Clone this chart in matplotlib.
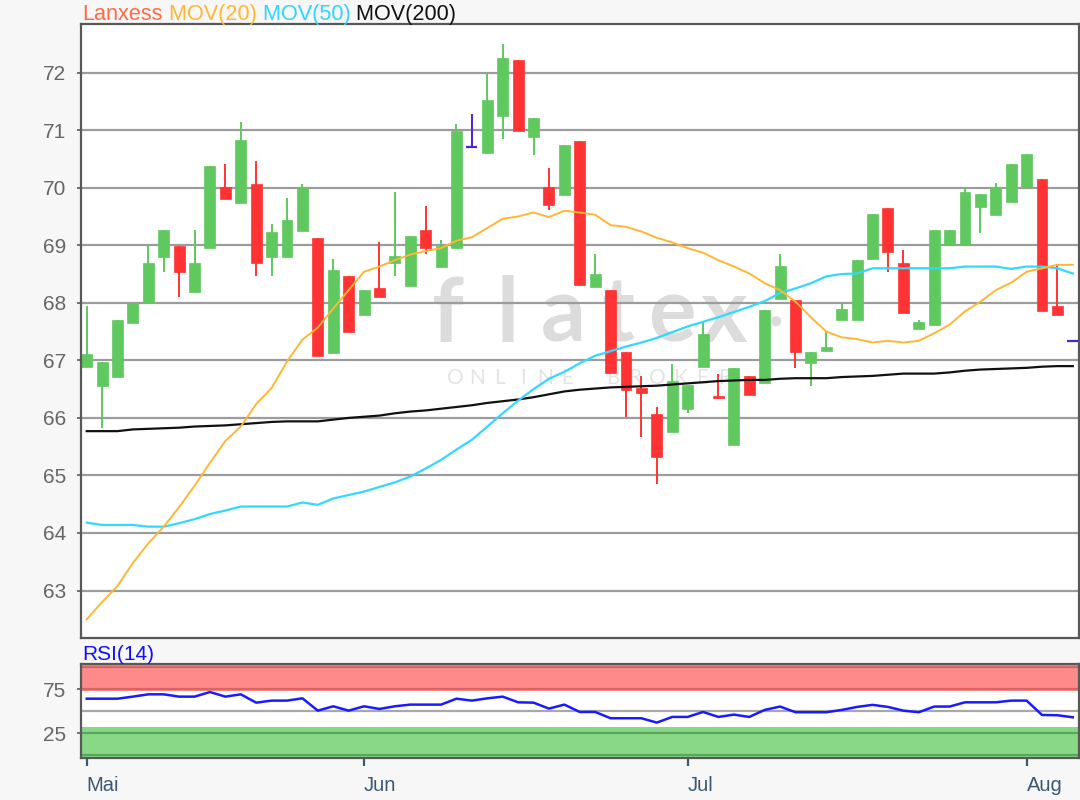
import matplotlib
matplotlib.use('Agg')
import matplotlib.pyplot as plt
import numpy as np

plt.rcParams['font.family'] = ['Liberation Sans', 'DejaVu Sans']

# ---------------- data ----------------
months = ['Mai', 'Jun', 'Jul', 'Aug']
month_start_idx = [0, 18, 39, 61]

opens = [66.88, 66.56, 66.71, 67.65, 68.00, 68.79, 68.99, 68.19, 68.96, 70.02,
         69.73, 70.07, 68.79, 68.79, 69.25, 69.12, 67.12, 68.47, 67.79, 68.25,
         68.69, 68.30, 69.27, 68.62, 68.96, 70.71, 70.60, 71.25, 72.22, 70.88,
         70.02, 69.87, 70.82, 68.28, 68.22, 67.14, 66.52, 66.06, 65.76, 66.16,
         66.89, 66.37, 65.53, 66.72, 66.61, 68.07, 68.05, 66.95, 67.17, 67.71,
         67.71, 68.76, 69.64, 68.70, 67.54, 67.62, 69.00, 69.00, 69.66, 69.52,
         69.76, 70.02, 70.16, 67.95]
highs = [67.95, 66.98, 67.70, 68.00, 69.01, 69.27, 68.99, 69.27, 70.38, 70.41,
         71.14, 70.47, 69.37, 69.82, 70.07, 69.12, 68.77, 68.47, 68.22, 69.05,
         69.93, 69.16, 69.68, 69.09, 71.11, 71.28, 72.00, 72.50, 72.22, 71.21,
         70.34, 70.75, 70.82, 68.84, 68.22, 67.14, 66.73, 66.19, 66.94, 66.57,
         67.69, 66.76, 66.86, 66.72, 67.88, 68.84, 68.05, 67.14, 67.49, 67.99,
         68.75, 69.54, 69.64, 68.92, 67.70, 69.27, 69.27, 70.02, 69.89, 70.08,
         70.41, 70.58, 70.16, 68.66]
lows = [66.88, 65.83, 66.71, 67.65, 68.00, 68.54, 68.10, 68.19, 68.96, 69.80,
        69.73, 68.47, 68.47, 68.79, 69.25, 67.08, 67.12, 67.50, 67.79, 68.10,
        68.47, 68.30, 68.85, 68.62, 68.96, 70.71, 70.60, 70.84, 70.99, 70.57,
        69.61, 69.87, 68.31, 68.28, 66.78, 66.01, 65.66, 64.86, 65.76, 66.08,
        66.89, 66.33, 65.53, 66.39, 66.61, 68.07, 66.87, 66.56, 67.17, 67.71,
        67.71, 68.76, 68.54, 67.82, 67.54, 67.62, 69.00, 69.00, 69.21, 69.52,
        69.76, 70.02, 67.85, 67.79]
closes = [67.11, 66.98, 67.70, 68.00, 68.70, 69.27, 68.54, 68.70, 70.38, 69.80,
          70.83, 68.69, 69.23, 69.44, 70.02, 67.08, 68.57, 67.50, 68.22, 68.10,
          68.81, 69.16, 68.96, 68.98, 70.99, 70.71, 71.53, 72.25, 70.99, 71.21,
          69.70, 70.75, 68.31, 68.50, 66.78, 66.48, 66.43, 65.32, 66.64, 66.57,
          67.46, 66.34, 66.86, 66.39, 67.88, 68.64, 67.14, 67.14, 67.24, 67.90,
          68.75, 69.54, 68.89, 67.82, 67.66, 69.27, 69.27, 69.92, 69.89, 70.02,
          70.41, 70.58, 67.85, 67.79]
last_price = 67.34

mov20 = [62.50, 62.80, 63.08, 63.48, 63.82, 64.11, 64.45, 64.82, 65.22, 65.60,
         65.85, 66.24, 66.52, 66.98, 67.36, 67.57, 67.90, 68.22, 68.54, 68.63,
         68.74, 68.84, 68.90, 68.95, 69.08, 69.14, 69.30, 69.46, 69.50, 69.57,
         69.49, 69.60, 69.57, 69.53, 69.35, 69.32, 69.24, 69.13, 69.05, 68.95,
         68.87, 68.74, 68.63, 68.51, 68.34, 68.22, 68.02, 67.75, 67.50, 67.40,
         67.37, 67.31, 67.34, 67.31, 67.34, 67.47, 67.62, 67.85, 68.02, 68.22,
         68.35, 68.54, 68.60, 68.66, 68.66]
mov50 = [64.18, 64.14, 64.14, 64.14, 64.11, 64.11, 64.17, 64.24, 64.33, 64.39,
         64.46, 64.46, 64.46, 64.46, 64.53, 64.49, 64.60, 64.66, 64.72, 64.80,
         64.88, 64.98, 65.12, 65.27, 65.45, 65.62, 65.85, 66.08, 66.30, 66.50,
         66.68, 66.80, 66.95, 67.08, 67.16, 67.24, 67.31, 67.39, 67.49, 67.59,
         67.67, 67.75, 67.84, 67.93, 68.03, 68.17, 68.25, 68.34, 68.46, 68.50,
         68.51, 68.60, 68.60, 68.60, 68.60, 68.60, 68.60, 68.63, 68.63, 68.63,
         68.59, 68.63, 68.63, 68.60, 68.51]
mov200 = [65.77, 65.77, 65.77, 65.80, 65.81, 65.82, 65.83, 65.85, 65.86, 65.87,
          65.89, 65.91, 65.93, 65.94, 65.94, 65.94, 65.97, 66.00, 66.02, 66.04,
          66.08, 66.11, 66.13, 66.16, 66.19, 66.22, 66.26, 66.29, 66.32, 66.36,
          66.41, 66.46, 66.49, 66.51, 66.53, 66.54, 66.55, 66.56, 66.58, 66.60,
          66.62, 66.64, 66.65, 66.66, 66.66, 66.68, 66.69, 66.69, 66.69, 66.71,
          66.72, 66.73, 66.75, 66.77, 66.77, 66.77, 66.79, 66.82, 66.84, 66.85,
          66.86, 66.87, 66.89, 66.90, 66.90]
rsi14 = [64.1, 64.1, 64.1, 66.4, 69.0, 69.0, 66.4, 66.4, 71.6, 66.4,
         69.0, 59.6, 61.9, 61.9, 64.5, 50.6, 55.5, 50.6, 55.5, 52.5,
         55.5, 57.4, 57.4, 57.4, 64.1, 61.9, 64.5, 66.4, 60.0, 59.6,
         52.9, 57.4, 49.1, 49.1, 42.0, 42.0, 42.0, 37.1, 43.5, 43.5,
         49.1, 43.5, 46.1, 43.5, 51.4, 55.2, 48.8, 48.8, 48.8, 51.4,
         54.8, 57.1, 54.8, 50.6, 48.8, 55.2, 55.2, 60.0, 60.0, 60.0,
         61.9, 61.9, 45.7, 45.4, 43.1]

price_ticks = list(range(63, 73))
rsi_ticks = [25, 75]

# ---------------- style ----------------
W, H = 1080, 800
BG = '#f7f7f7'
GREEN = '#5fc85f'
RED = '#ff3333'
BLUE_DOJI = '#4a22d8'
C20 = '#ffb733'
C50 = '#33d8ff'
C200 = '#111111'
SPINE = '#585858'
GRID = '#9c9c9c'
TICKTXT = '#666666'
XTXT = '#3b5875'


def fx(px):
    return px / W


def fy(py):
    return 1 - py / H


fig = plt.figure(figsize=(W / 100, H / 100), dpi=100, facecolor=BG)

left_px, right_px = 81.3, 1079.0
ax = fig.add_axes([fx(left_px), fy(638.3), fx(right_px - left_px), (638.3 - 24.3) / H])
ax2 = fig.add_axes([fx(left_px), fy(758.3), fx(right_px - left_px), (758.3 - 664.3) / H])

n = len(opens)
idx = np.arange(n)
ma_idx = np.arange(len(mov20))

# watermark (behind everything)
wm_letters = ['f', 'l', 'a', 't', 'e', 'x']
wm_x = [447, 507, 563, 618, 672, 724]
for ch, xp in zip(wm_letters, wm_x):
    ax.text(fx(xp), fy(342), ch, transform=fig.transFigure, fontsize=64,
            family='Lato', weight='bold', color='#dcdcdc', ha='center',
            va='baseline', zorder=0.2)
ax.text(fx(776), fy(322), '\u25cf', transform=fig.transFigure, fontsize=17,
        color='#dcdcdc', ha='center', va='center', zorder=0.2)
wm2 = 'ONLINE BROKER'
for k, ch in enumerate(wm2):
    ax.text(fx(455 + k * 22.5), fy(378), ch, transform=fig.transFigure, fontsize=15,
            family='Lato', color='#e4e4e4', ha='center', va='center', zorder=0.2)

# candles
body_w = 0.71
for i in idx:
    o, h, l, c = opens[i], highs[i], lows[i], closes[i]
    if c > o:
        col = GREEN
    elif c < o:
        col = RED
    else:
        col = BLUE_DOJI
    ax.vlines(i, l, h, color=col, lw=1.4, zorder=2)
    if c == o:
        ax.hlines(o, i - body_w / 2, i + body_w / 2, color=col, lw=1.6, zorder=2)
    else:
        ax.bar(i, max(abs(c - o), 0.04), bottom=min(o, c), width=body_w,
               color=col, edgecolor=col, lw=0.5, zorder=2)

ax.hlines(last_price, n - 0.4, n + 0.4, color=BLUE_DOJI, lw=1.6, zorder=2)

ax.plot(ma_idx, mov200, color=C200, lw=1.6, zorder=3)
ax.plot(ma_idx, mov50, color=C50, lw=1.6, zorder=3)
ax.plot(ma_idx, mov20, color=C20, lw=1.4, zorder=3)

xlim = (-0.35, 64.4)
ax.set_xlim(*xlim)
ax.set_ylim(62.17, 72.84)
ax.set_yticks(price_ticks)
ax.set_yticklabels([str(v) for v in price_ticks])
ax.set_xticks([])
ax.set_axisbelow(True)
ax.grid(axis='y', color=GRID, lw=1.6, zorder=0.5)
ax.tick_params(axis='y', length=3, width=1.2, color=SPINE, pad=8,
               labelsize=15, labelcolor=TICKTXT)
for s in ax.spines.values():
    s.set_color(SPINE)
    s.set_linewidth(1.6)

# RSI panel
ax2.axhspan(72.5, 110, color='#ff8a8a', lw=0, zorder=0.1)
ax2.axhspan(-10, 32.5, color='#88d888', lw=0, zorder=0.1)
for yv in (100, 75):
    ax2.axhline(yv, color='#d86464', lw=1.6, zorder=0.3)
for yv in (25, 0):
    ax2.axhline(yv, color='#5aa65a', lw=1.6, zorder=0.3)
ax2.axhline(50, color='#a8a8a8', lw=1.6, zorder=0.3)
ax2.plot(ma_idx, rsi14, color='#1a1aff', lw=1.8, zorder=3)
ax2.set_xlim(*xlim)
ax2.set_ylim(-3.2, 102.9)
ax2.set_yticks(rsi_ticks)
ax2.set_yticklabels([str(v) for v in rsi_ticks])
ax2.tick_params(axis='y', length=3, width=1.2, color=SPINE, pad=8,
                labelsize=15, labelcolor=TICKTXT)
ax2.set_xticks(month_start_idx)
ax2.set_xticklabels(months)
ax2.tick_params(axis='x', length=6, width=1.6, color=XTXT, pad=7,
                labelsize=14.5, labelcolor=XTXT)
for lab in ax2.get_xticklabels():
    lab.set_ha('left')
for s in ax2.spines.values():
    s.set_color(SPINE)
    s.set_linewidth(1.6)

fig.text(fx(82.5), fy(655), 'RSI(14)', color='#1010ff', fontsize=15,
         ha='left', va='center')

# header legend
parts = [('Lanxess', '#ff6a45'), (' MOV(20)', '#ffb733'),
         (' MOV(50)', '#2fd4ff'), (' MOV(200)', '#111111')]
fig.canvas.draw()
renderer = fig.canvas.get_renderer()
xpos = 82.5
for txt, col in parts:
    t = fig.text(fx(xpos), fy(14.5), txt, color=col, fontsize=15.6, ha='left', va='center')
    bb = t.get_window_extent(renderer=renderer)
    xpos += bb.width

fig.savefig('out.png', dpi=100, facecolor=BG)
